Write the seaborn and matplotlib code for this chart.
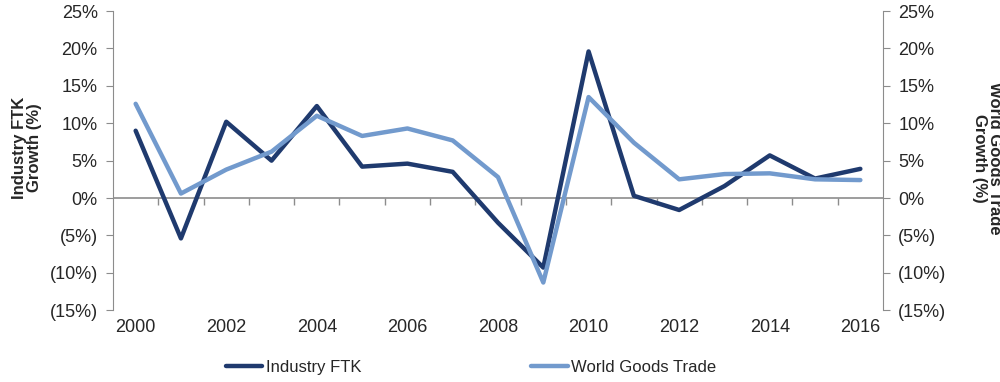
import numpy as np
import pandas as pd
import matplotlib
matplotlib.use("Agg")
import matplotlib.pyplot as plt
from matplotlib.ticker import FuncFormatter, NullFormatter
import seaborn as sns

# Data (annual growth, %)
years = list(range(2000, 2017))
industry_ftk = [9.0, -5.4, 10.2, 5.0, 12.3, 4.2, 4.6, 3.5, -3.3, -9.3,
                19.6, 0.3, -1.6, 1.6, 5.7, 2.6, 3.9]
world_trade = [12.6, 0.6, 3.8, 6.2, 11.0, 8.3, 9.3, 7.7, 2.8, -11.3,
               13.5, 7.4, 2.5, 3.2, 3.3, 2.5, 2.4]
year_labels = [str(y) for y in years[::2]]

df = pd.DataFrame({"Year": years, "Industry FTK": industry_ftk,
                   "World Goods Trade": world_trade})

sns.set_style("white")
plt.rcParams["font.family"] = ["Liberation Sans", "DejaVu Sans"]

dark = "#1f3a6e"
light = "#729acd"
grey = "#8c8c8c"

fig = plt.figure(figsize=(10, 3.82), dpi=100)
ax = fig.add_axes([0.113, 0.188, 0.770, 0.783])

ymin, ymax = -15, 25

# zero line
ax.axhline(0, color=grey, lw=1.2, zorder=1)

sns.lineplot(data=df, x="Year", y="Industry FTK", color=dark, lw=3.2,
             label="Industry FTK", ax=ax, legend=False, zorder=3)
sns.lineplot(data=df, x="Year", y="World Goods Trade", color=light, lw=3.2,
             label="World Goods Trade", ax=ax, legend=False, zorder=3)

ax.set_ylim(ymin, ymax)
ax.set_xlim(years[0] - 0.5, years[-1] + 0.5)
ax.set_yticks(np.arange(ymin, ymax + 1, 5))
pct = FuncFormatter(lambda v, p: f"{v:.0f}%" if v >= 0 else f"({-v:.0f}%)")
ax.yaxis.set_major_formatter(pct)
ax.set_xticks(years[::2])
ax.set_xticklabels(year_labels)
ax.set_xlabel("")
ax.set_ylabel("")

for s in ["top", "bottom", "right"]:
    ax.spines[s].set_visible(False)
ax.spines["left"].set_color(grey)
ax.tick_params(axis="y", direction="out", length=5, color=grey, labelsize=13,
               pad=6, left=True)
ax.tick_params(axis="x", length=0, labelsize=13, pad=6)

# category boundary ticks hanging from the zero line
zero_loc = (0 - ymin) / (ymax - ymin)
sec = ax.secondary_xaxis(zero_loc)
for s in sec.spines.values():
    s.set_visible(False)
sec.xaxis.set_ticks_position("bottom")
sec.set_xticks(np.arange(years[0] + 0.5, years[-1], 1))
sec.xaxis.set_major_formatter(NullFormatter())
sec.tick_params(axis="x", which="major", direction="out", length=5, width=1,
                color=grey, bottom=True, top=False,
                labelbottom=False, labeltop=False)

# right axis (same scale)
ax2 = ax.twinx()
ax2.set_ylim(ymin, ymax)
ax2.set_yticks(np.arange(ymin, ymax + 1, 5))
ax2.yaxis.set_major_formatter(pct)
for s in ["top", "bottom", "left"]:
    ax2.spines[s].set_visible(False)
ax2.spines["right"].set_color(grey)
ax2.tick_params(axis="y", direction="out", length=5, color=grey, labelsize=13,
                pad=6, right=True)

fig.text(0.027, 0.613, "Industry FTK\nGrowth (%)", rotation=90, ha="center",
         va="center", fontsize=12, fontweight="bold", linespacing=1.0)
fig.text(0.987, 0.586, "World Goods Trade\nGrowth (%)", rotation=270,
         ha="center", va="center", fontsize=12, fontweight="bold",
         linespacing=1.0)

handles, labels = ax.get_legend_handles_labels()
fig.legend(handles, labels, loc="center", bbox_to_anchor=(0.471, 0.039),
           ncol=2, frameon=False, fontsize=12, handlelength=2.2,
           handletextpad=0.2, columnspacing=10.2)

fig.savefig("out.png", dpi=100)
